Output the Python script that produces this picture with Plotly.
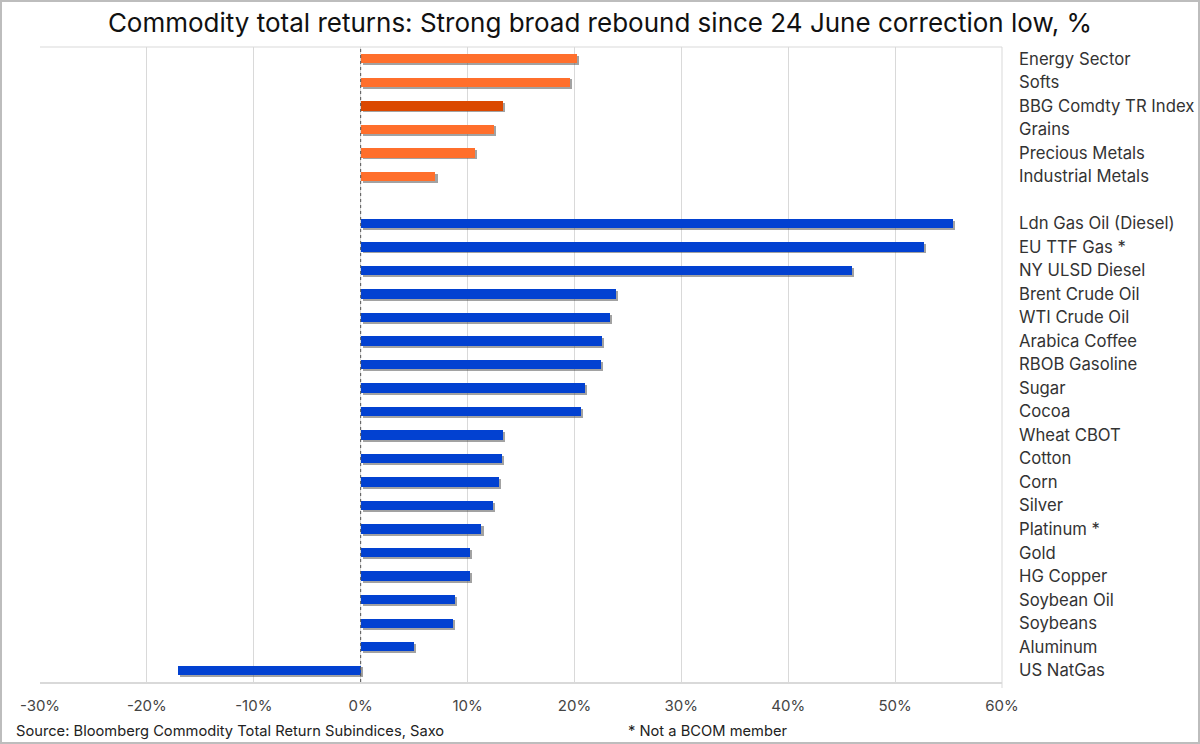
import plotly.graph_objects as go

# sector summaries (top block) and single commodities (bottom block)
sector_names = ["Energy Sector", "Softs", "BBG Comdty TR Index", "Grains",
                "Precious Metals", "Industrial Metals"]
sector_returns = [20.2, 19.6, 13.3, 12.5, 10.7, 7.0]

commodity_names = ["Ldn Gas Oil (Diesel)", "EU TTF Gas *", "NY ULSD Diesel",
                   "Brent Crude Oil", "WTI Crude Oil", "Arabica Coffee",
                   "RBOB Gasoline", "Sugar", "Cocoa", "Wheat CBOT", "Cotton",
                   "Corn", "Silver", "Platinum *", "Gold", "HG Copper",
                   "Soybean Oil", "Soybeans", "Aluminum", "US NatGas"]
commodity_returns = [55.4, 52.7, 46.0, 23.9, 23.3, 22.6, 22.5, 21.0, 20.6,
                     13.3, 13.2, 12.9, 12.4, 11.3, 10.2, 10.2, 8.8, 8.6, 5.0, -17.1]

x_ticks = [-30, -20, -10, 0, 10, 20, 30, 40, 50, 60]
x_ticktext = [f"{v}%" for v in x_ticks]

ORANGE = "#FF6F2C"
ORANGE_DARK = "#DB4800"
BLUE = "#0241D1"

# row positions: one empty row between the two blocks
sector_pos = list(range(len(sector_names)))
commodity_pos = [len(sector_names) + 1 + i for i in range(len(commodity_names))]

names = sector_names + commodity_names
values = sector_returns + commodity_returns
positions = sector_pos + commodity_pos
colors = [ORANGE_DARK if n.startswith("BBG") else ORANGE for n in sector_names] + \
         [BLUE] * len(commodity_names)

BAR_W = 0.4

fig = go.Figure()

# soft drop shadow behind each bar
fig.add_trace(go.Bar(
    x=values, y=[p + 0.08 for p in positions], base=0.2, orientation="h",
    width=BAR_W, marker=dict(color="rgba(70,70,70,0.5)", line=dict(width=0)),
    hoverinfo="skip", showlegend=False))

fig.add_trace(go.Bar(
    x=values, y=positions, orientation="h", width=BAR_W,
    marker=dict(color=colors, line=dict(width=0)),
    text=names, hovertemplate="%{text}: %{x:.1f}%<extra></extra>",
    textposition="none", showlegend=False))

L, R, T, B = 40, 198, 47, 62
W, H = 1200, 744
pw, ph = W - L - R, H - T - B

fig.update_layout(
    width=W, height=H,
    template="none",
    paper_bgcolor="white", plot_bgcolor="white",
    font=dict(family="Inter, Noto Sans, sans-serif", size=16, color="#333333"),
    margin=dict(l=L, r=R, t=T, b=B, pad=0),
    barmode="overlay",
    bargap=0,
    title=dict(text="Commodity total returns: Strong broad rebound since 24 June correction low, %",
               x=0.5, xanchor="center", y=1 - 23 / H, yanchor="middle", yref="container",
               font=dict(family="Inter, Noto Sans, sans-serif", size=26, color="#111111")),
    shapes=[
        # dotted zero line
        dict(type="line", xref="x", yref="paper", x0=0, x1=0, y0=0, y1=1,
             line=dict(color="#555555", width=1, dash="dot"), layer="above"),
        # right edge of plot, running a little past the axis line
        dict(type="line", xref="paper", yref="paper", x0=1, x1=1, y0=-6 / ph, y1=1,
             line=dict(color="#D9D9D9", width=1), layer="below"),
        # top edge of plot
        dict(type="line", xref="paper", yref="paper", x0=0, x1=1, y0=1, y1=1,
             line=dict(color="#D9D9D9", width=1), layer="below"),
        # frame around the whole picture
        dict(type="rect", xref="paper", yref="paper",
             x0=-(L - 1) / pw, x1=1 + (R - 1) / pw,
             y0=-(B - 1) / ph, y1=1 + (T - 1) / ph,
             line=dict(color="#BDBDBD", width=2), fillcolor="rgba(0,0,0,0)"),
    ],
    annotations=[
        dict(text="Source: Bloomberg Commodity Total Return Subindices, Saxo",
             xref="paper", yref="paper", x=-(L - 14) / pw, y=-(731 - T - ph) / ph,
             xanchor="left", yanchor="middle", showarrow=False,
             font=dict(size=14.7, color="#222222")),
        dict(text="* Not a BCOM member",
             xref="paper", yref="paper", x=(626 - L) / pw, y=-(731 - T - ph) / ph,
             xanchor="left", yanchor="middle", showarrow=False,
             font=dict(size=14.7, color="#222222")),
    ],
)

fig.update_xaxes(
    range=[-30, 60], tickvals=x_ticks, ticktext=x_ticktext,
    showgrid=True, gridcolor="#D9D9D9", gridwidth=1,
    zeroline=False, showline=True, linecolor="#D9D9D9", linewidth=2,
    ticks="", ticklabelstandoff=9,
    tickfont=dict(size=15, color="#444444"),
)

fig.update_yaxes(
    range=[max(positions) + 0.5, -0.5],
    tickvals=positions, ticktext=names, side="right",
    showgrid=False, zeroline=False, showline=False,
    ticks="", ticklabelstandoff=16,
    tickfont=dict(size=16.7, color="#333333"),
)

# drop the default page margin so the fixed-size figure fills the window
fig.write_html("out.html", config={"displayModeBar": False},
               post_script="document.body.style.margin='0';")
